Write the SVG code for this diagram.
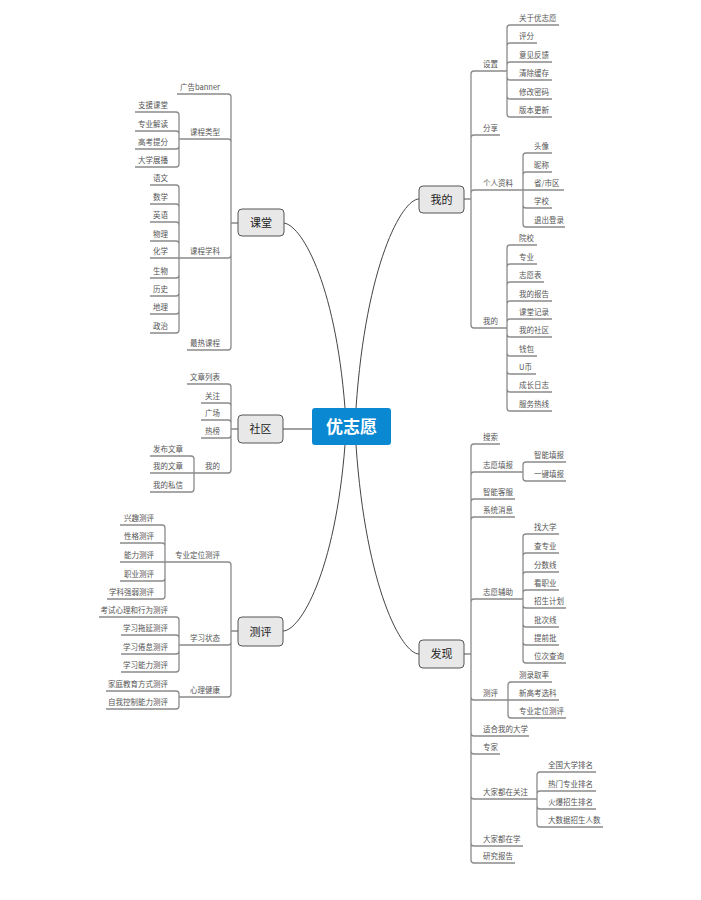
<svg xmlns="http://www.w3.org/2000/svg" width="701" height="900" viewBox="0 0 701 900">
<style>
.t{font-family:"Noto Sans CJK SC","Liberation Sans",sans-serif;font-size:7.5px;fill:#555}
.e{text-anchor:end}
.m{font-family:"Noto Sans CJK SC","Liberation Sans",sans-serif;font-size:11px;fill:#222;text-anchor:middle}
.mb{fill:#e8e8e8;stroke:#555;stroke-width:1}
.ln{fill:none;stroke:#8a8a8a;stroke-width:1.3}
.cv{fill:none;stroke:#444;stroke-width:1}
</style>
<rect width="701" height="900" fill="#fff"/>
<g id="connectors">
<path class="cv" d="M283,223 C300,223 335,280 345,408"/>
<path class="cv" d="M283,429 H312"/>
<path class="cv" d="M283,631 C300,631 335,573 345,445"/>
<path class="cv" d="M419,199 C402,199 366,264 356,408"/>
<path class="cv" d="M419,654 C402,654 366,589 356,445"/>
<path class="ln" d="M238,223 H231 M231,223 V97 Q231,94 228,94 H177 M231,223 V142 Q231,139 228,139 H179 M231,223 V255 Q231,258 228,258 H179 M231,223 V347 Q231,350 228,350 H187"/>
<path class="ln" d="M179,139 V115 Q179,112 176,112 H135 M179,139 V134 Q179,131 176,131 H135 M179,139 V146 Q179,149 176,149 H135 M179,139 V164 Q179,167 176,167 H135"/>
<path class="ln" d="M179,258 V188 Q179,185 176,185 H150 M179,258 V207 Q179,204 176,204 H150 M179,258 V225 Q179,222 176,222 H150 M179,258 V244 Q179,241 176,241 H150 M179,258 H150 M179,258 V275 Q179,278 176,278 H150 M179,258 V293 Q179,296 176,296 H150 M179,258 V311 Q179,314 176,314 H150 M179,258 V330 Q179,333 176,333 H150"/>
<path class="ln" d="M238,429 H231 M231,429 V387 Q231,384 228,384 H187 M231,429 V406 Q231,403 228,403 H201 M231,429 V423 Q231,420 228,420 H201 M231,429 V435 Q231,438 228,438 H201 M231,429 V470 Q231,473 228,473 H194"/>
<path class="ln" d="M194,473 V459 Q194,456 191,456 H150 M194,473 H150 M194,473 V489 Q194,492 191,492 H150"/>
<path class="ln" d="M238,631 H231 M231,631 V565 Q231,562 228,562 H165 M231,631 V642 Q231,645 228,645 H179 M231,631 V694 Q231,697 228,697 H179"/>
<path class="ln" d="M165,562 V528 Q165,525 162,525 H120 M165,562 V546 Q165,543 162,543 H120 M165,562 H120 M165,562 V578 Q165,581 162,581 H120 M165,562 V596 Q165,599 162,599 H107"/>
<path class="ln" d="M179,645 V620 Q179,617 176,617 H99 M179,645 V638 Q179,635 176,635 H121 M179,645 V651 Q179,654 176,654 H121 M179,645 V669 Q179,672 176,672 H121"/>
<path class="ln" d="M179,697 V694 Q179,691 176,691 H106 M179,697 V706 Q179,709 176,709 H106"/>
<path class="ln" d="M464,199 H471 M471,199 V74 Q471,71 474,71 H507 M471,199 V138 Q471,135 474,135 H500 M471,199 V193 Q471,190 474,190 H523 M471,199 V325 Q471,328 474,328 H507"/>
<path class="ln" d="M507,71 V28 Q507,25 510,25 H559 M507,71 V46 Q507,43 510,43 H537 M507,71 V65 Q507,62 510,62 H552 M507,71 V77 Q507,80 510,80 H552 M507,71 V96 Q507,99 510,99 H552 M507,71 V114 Q507,117 510,117 H552"/>
<path class="ln" d="M523,190 V156 Q523,153 526,153 H552 M523,190 V175 Q523,172 526,172 H552 M523,190 H564 M523,190 V205 Q523,208 526,208 H552 M523,190 V224 Q523,227 526,227 H565"/>
<path class="ln" d="M507,328 V248 Q507,245 510,245 H537 M507,328 V267 Q507,264 510,264 H537 M507,328 V285 Q507,282 510,282 H544 M507,328 V304 Q507,301 510,301 H552 M507,328 V322 Q507,319 510,319 H552 M507,328 V334 Q507,337 510,337 H552 M507,328 V353 Q507,356 510,356 H537 M507,328 V371 Q507,374 510,374 H536 M507,328 V389 Q507,392 510,392 H552 M507,328 V408 Q507,411 510,411 H552"/>
<path class="ln" d="M463,654 H471 M471,654 V447 Q471,444 474,444 H500 M471,654 V475 Q471,472 474,472 H523 M471,654 V502 Q471,499 474,499 H515 M471,654 V520 Q471,517 474,517 H515 M471,654 V602 Q471,599 474,599 H523 M471,654 V697 Q471,700 474,700 H508 M471,654 V733 Q471,736 474,736 H529 M471,654 V751 Q471,754 474,754 H500 M471,654 V796 Q471,799 474,799 H537 M471,654 V843 Q471,846 474,846 H523 M471,654 V860 Q471,863 474,863 H515"/>
<path class="ln" d="M523,472 V465 Q523,462 526,462 H566 M523,472 V478 Q523,481 526,481 H566"/>
<path class="ln" d="M523,599 V537 Q523,534 526,534 H559 M523,599 V556 Q523,553 526,553 H559 M523,599 V575 Q523,572 526,572 H559 M523,599 V593 Q523,590 526,590 H559 M523,599 V605 Q523,608 526,608 H566 M523,599 V624 Q523,627 526,627 H559 M523,599 V642 Q523,645 526,645 H559 M523,599 V660 Q523,663 526,663 H566"/>
<path class="ln" d="M508,700 V685 Q508,682 511,682 H552 M508,700 H559 M508,700 V715 Q508,718 511,718 H566"/>
<path class="ln" d="M537,799 V775 Q537,772 540,772 H596 M537,799 V794 Q537,791 540,791 H596 M537,799 V806 Q537,809 540,809 H596 M537,799 V824 Q537,827 540,827 H603"/>
</g>
<g id="root"><rect x="312" y="408" width="79" height="37" rx="3" fill="#0a88d1"/><text x="351.5" y="433" font-family="Noto Sans CJK SC, sans-serif" font-size="17" font-weight="bold" fill="#fff" text-anchor="middle">优志愿</text></g>
<g id="ketang"><rect class="mb" x="238" y="209" width="46" height="27" rx="4"/><text class="m" x="261" y="227">课堂</text></g>
<g id="shequ"><rect class="mb" x="238" y="415" width="45" height="28" rx="4"/><text class="m" x="260.5" y="433">社区</text></g>
<g id="ceping"><rect class="mb" x="238" y="617" width="45" height="29" rx="4"/><text class="m" x="260.5" y="635.5">测评</text></g>
<g id="wode"><rect class="mb" x="419" y="186" width="45" height="27" rx="4"/><text class="m" x="441.5" y="203.5">我的</text></g>
<g id="faxian"><rect class="mb" x="419" y="640" width="45" height="28" rx="4"/><text class="m" x="441.5" y="658">发现</text></g>
<g id="kt-children" class="t e">
<g id="kt1"><text class="t e" x="220" y="90">广告banner</text></g>
<g id="kt2"><text class="t e" x="220" y="135">课程类型</text></g>
<g id="kt3"><text class="t e" x="220" y="254">课程学科</text></g>
<g id="kt4"><text class="t e" x="220" y="346">最热课程</text></g>
<g id="kt2a"><text class="t e" x="168" y="108">支援课堂</text></g>
<g id="kt2b"><text class="t e" x="168" y="127">专业解读</text></g>
<g id="kt2c"><text class="t e" x="168" y="145">高考提分</text></g>
<g id="kt2d"><text class="t e" x="168" y="163">大学展播</text></g>
<g id="kt3a"><text class="t e" x="168" y="181">语文</text></g>
<g id="kt3b"><text class="t e" x="168" y="200">数学</text></g>
<g id="kt3c"><text class="t e" x="168" y="218">英语</text></g>
<g id="kt3d"><text class="t e" x="168" y="237">物理</text></g>
<g id="kt3e"><text class="t e" x="168" y="254">化学</text></g>
<g id="kt3f"><text class="t e" x="168" y="274">生物</text></g>
<g id="kt3g"><text class="t e" x="168" y="292">历史</text></g>
<g id="kt3h"><text class="t e" x="168" y="310">地理</text></g>
<g id="kt3i"><text class="t e" x="168" y="329">政治</text></g>
</g>
<g id="sq-children">
<g id="sq1"><text class="t e" x="220" y="380">文章列表</text></g>
<g id="sq2"><text class="t e" x="220" y="399">关注</text></g>
<g id="sq3"><text class="t e" x="220" y="416">广场</text></g>
<g id="sq4"><text class="t e" x="220" y="434">热榜</text></g>
<g id="sq5"><text class="t e" x="220" y="469">我的</text></g>
<g id="sq5a"><text class="t e" x="183" y="452">发布文章</text></g>
<g id="sq5b"><text class="t e" x="183" y="469">我的文章</text></g>
<g id="sq5c"><text class="t e" x="183" y="488">我的私信</text></g>
</g>
<g id="cp-children">
<g id="cp1"><text class="t e" x="220" y="558">专业定位测评</text></g>
<g id="cp2"><text class="t e" x="220" y="641">学习状态</text></g>
<g id="cp3"><text class="t e" x="220" y="693">心理健康</text></g>
<g id="cp1a"><text class="t e" x="154" y="521">兴趣测评</text></g>
<g id="cp1b"><text class="t e" x="154" y="539">性格测评</text></g>
<g id="cp1c"><text class="t e" x="154" y="558">能力测评</text></g>
<g id="cp1d"><text class="t e" x="154" y="577">职业测评</text></g>
<g id="cp1e"><text class="t e" x="154" y="595">学科强弱测评</text></g>
<g id="cp2a"><text class="t e" x="168" y="613">考试心理和行为测评</text></g>
<g id="cp2b"><text class="t e" x="168" y="631">学习拖延测评</text></g>
<g id="cp2c"><text class="t e" x="168" y="650">学习倦怠测评</text></g>
<g id="cp2d"><text class="t e" x="168" y="668">学习能力测评</text></g>
<g id="cp3a"><text class="t e" x="168" y="687">家庭教育方式测评</text></g>
<g id="cp3b"><text class="t e" x="168" y="705">自我控制能力测评</text></g>
</g>
<g id="wd-children">
<g id="wd1"><text class="t" x="483" y="67">设置</text></g>
<g id="wd2"><text class="t" x="483" y="131">分享</text></g>
<g id="wd3"><text class="t" x="483" y="186">个人资料</text></g>
<g id="wd4"><text class="t" x="483" y="324">我的</text></g>
<g id="wd1a"><text class="t" x="519" y="21">关于优志愿</text></g>
<g id="wd1b"><text class="t" x="519" y="39">评分</text></g>
<g id="wd1c"><text class="t" x="519" y="58">意见反馈</text></g>
<g id="wd1d"><text class="t" x="519" y="76">清除缓存</text></g>
<g id="wd1e"><text class="t" x="519" y="95">修改密码</text></g>
<g id="wd1f"><text class="t" x="519" y="113">版本更新</text></g>
<g id="wd3a"><text class="t" x="534" y="149">头像</text></g>
<g id="wd3b"><text class="t" x="534" y="168">昵称</text></g>
<g id="wd3c"><text class="t" x="534" y="186">省/市区</text></g>
<g id="wd3d"><text class="t" x="534" y="204">学校</text></g>
<g id="wd3e"><text class="t" x="534" y="223">退出登录</text></g>
<g id="wd4a"><text class="t" x="519" y="241">院校</text></g>
<g id="wd4b"><text class="t" x="519" y="260">专业</text></g>
<g id="wd4c"><text class="t" x="519" y="278">志愿表</text></g>
<g id="wd4d"><text class="t" x="519" y="297">我的报告</text></g>
<g id="wd4e"><text class="t" x="519" y="315">课堂记录</text></g>
<g id="wd4f"><text class="t" x="519" y="333">我的社区</text></g>
<g id="wd4g"><text class="t" x="519" y="352">钱包</text></g>
<g id="wd4h"><text class="t" x="519" y="370">U币</text></g>
<g id="wd4i"><text class="t" x="519" y="388">成长日志</text></g>
<g id="wd4j"><text class="t" x="519" y="407">服务热线</text></g>
</g>
<g id="fx-children">
<g id="fx1"><text class="t" x="483" y="440">搜索</text></g>
<g id="fx2"><text class="t" x="483" y="468">志愿填报</text></g>
<g id="fx3"><text class="t" x="483" y="495">智能客服</text></g>
<g id="fx4"><text class="t" x="483" y="513">系统消息</text></g>
<g id="fx5"><text class="t" x="483" y="595">志愿辅助</text></g>
<g id="fx6"><text class="t" x="483" y="696">测评</text></g>
<g id="fx7"><text class="t" x="483" y="732">适合我的大学</text></g>
<g id="fx8"><text class="t" x="483" y="750">专家</text></g>
<g id="fx9"><text class="t" x="483" y="795">大家都在关注</text></g>
<g id="fx10"><text class="t" x="483" y="842">大家都在学</text></g>
<g id="fx11"><text class="t" x="483" y="859">研究报告</text></g>
<g id="fx2a"><text class="t" x="534" y="458">智能填报</text></g>
<g id="fx2b"><text class="t" x="534" y="477">一键填报</text></g>
<g id="fx5a"><text class="t" x="534" y="530">找大学</text></g>
<g id="fx5b"><text class="t" x="534" y="549">查专业</text></g>
<g id="fx5c"><text class="t" x="534" y="568">分数线</text></g>
<g id="fx5d"><text class="t" x="534" y="586">看职业</text></g>
<g id="fx5e"><text class="t" x="534" y="604">招生计划</text></g>
<g id="fx5f"><text class="t" x="534" y="623">批次线</text></g>
<g id="fx5g"><text class="t" x="534" y="641">提前批</text></g>
<g id="fx5h"><text class="t" x="534" y="659">位次查询</text></g>
<g id="fx6a"><text class="t" x="519" y="678">测录取率</text></g>
<g id="fx6b"><text class="t" x="519" y="696">新高考选科</text></g>
<g id="fx6c"><text class="t" x="519" y="714">专业定位测评</text></g>
<g id="fx9a"><text class="t" x="548" y="768">全国大学排名</text></g>
<g id="fx9b"><text class="t" x="548" y="787">热门专业排名</text></g>
<g id="fx9c"><text class="t" x="548" y="805">火爆招生排名</text></g>
<g id="fx9d"><text class="t" x="548" y="823">大数据招生人数</text></g>
</g>
</svg>
